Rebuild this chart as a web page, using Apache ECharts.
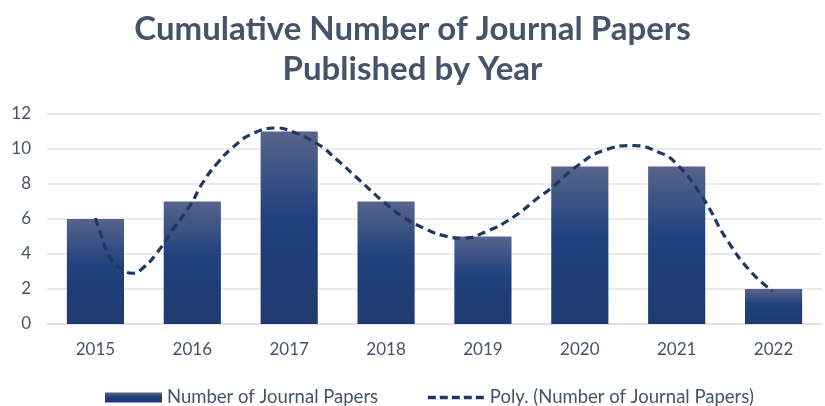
<!DOCTYPE html>
<html><head><meta charset="utf-8">
<script src="https://cdn.jsdelivr.net/npm/echarts@6/dist/echarts.min.js"></script>
<style>html,body{margin:0;padding:0;background:#fff}#c{width:825px;height:406px}</style>
</head><body><div id="c"></div>
<script>
const categories = ['2015','2016','2017','2018','2019','2020','2021','2022'];
const papers = [6, 7, 11, 7, 5, 9, 9, 2];
// trendline: [category index, value]
const trendX = [0, 0.05, 0.15, 0.26, 0.38, 0.49, 0.64, 0.80, 0.98, 1.11, 1.26, 1.42, 1.63, 1.88, 1.98, 2.29, 2.49, 2.73, 2.97, 3.18, 3.42, 3.63, 3.79, 4.04, 4.31, 4.59, 4.69, 4.99, 5.24, 5.55, 5.82, 5.99, 6.26, 6.52, 6.78, 6.99];
const trendY = [6.05, 5.2, 3.8, 3.2, 2.9, 3.2, 4.1, 5.4, 6.8, 8.1, 9.2, 10.1, 10.9, 11.2, 11.1, 10.3, 9.4, 8.2, 7.0, 6.1, 5.4, 5.0, 4.9, 5.3, 6.1, 7.3, 7.7, 9.1, 9.9, 10.2, 9.8, 9.2, 7.3, 4.8, 2.9, 1.9];
const yTicks = [0, 2, 4, 6, 8, 10, 12];

const chart = echarts.init(document.getElementById('c'));
const barGrad = new echarts.graphic.LinearGradient(0,0,0,1,[
  {offset:0,color:'#58648B'},{offset:0.45,color:'#1F417D'},{offset:1,color:'#1F3A70'}]);
chart.setOption({
  animation:false,
  title:{text:'Cumulative Number of Journal Papers\nPublished by Year',left:'center',top:4,
    textStyle:{fontFamily:'Lato',fontWeight:'bold',fontSize:33,lineHeight:40,color:'#44546A'}},
  legend:{top:383,left:100,itemGap:48,itemWidth:57,itemHeight:10,
    textStyle:{fontFamily:'Lato',fontSize:18.5,color:'#44546A'},
    data:[{name:'Number of Journal Papers',icon:'rect'},
          {name:'Poly. (Number of Journal Papers)',itemStyle:{opacity:0},
           lineStyle:{width:3.5,type:[8,4],color:'#1F3864'}}]},
  grid:{left:47,right:3,top:114,bottom:82},
  xAxis:[{type:'category',data:categories,axisTick:{show:false},
    axisLine:{lineStyle:{color:'#DADEE3',width:1.5}},
    axisLabel:{margin:17,fontFamily:'Lato',fontSize:17,color:'#44546A'}},
    {type:'value',min:-0.5,max:7.5,show:false}],
  yAxis:{type:'value',min:0,max:12,interval:2,
    axisLabel:{margin:16,fontFamily:'Lato',fontSize:17,color:'#44546A',
      formatter:v=>yTicks.includes(v)?String(v):''},
    splitLine:{lineStyle:{color:'#E0E3E8',width:1.5}},axisLine:{show:false},axisTick:{show:false}},
  series:[
    {name:'Number of Journal Papers',type:'bar',data:papers,barCategoryGap:'41%',
      itemStyle:{color:barGrad}},
    {name:'Poly. (Number of Journal Papers)',type:'line',xAxisIndex:1,smooth:true,symbol:'none',
      data:trendX.map((x,i)=>[x,trendY[i]]),
      itemStyle:{color:'#1F3864'},
      lineStyle:{color:'#1F3864',width:3.2,type:[8,5]}}
  ]
});
</script></body></html>
